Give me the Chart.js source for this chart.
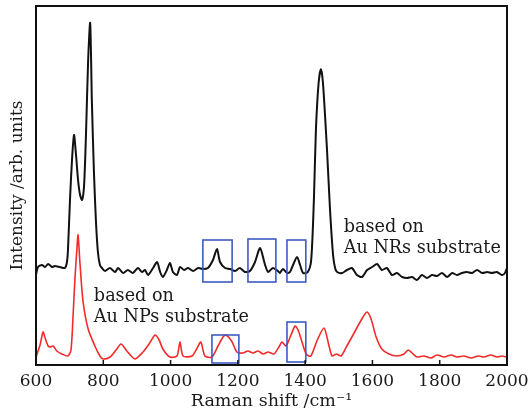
<!DOCTYPE html>
<html>
<head>
<meta charset="utf-8">
<script src="https://cdn.jsdelivr.net/npm/chart.js@4.4.0/dist/chart.umd.min.js"></script>
<style>
  html, body { margin: 0; padding: 0; background: #fff; }
  #wrap { width: 528px; height: 418px; }
</style>
</head>
<body>
<div id="wrap"><canvas id="raman"></canvas></div>
<script>
'use strict';

// Au NRs spectrum (drawn offset upward), shift in cm^-1, intensity in arb. units
const nrShift = [600, 606, 618, 627, 636, 648, 656, 671, 686, 692, 695, 701, 707, 713, 719, 725, 731, 737, 743, 749,
  755, 761, 766, 772, 778, 784, 790, 796, 805, 820, 835, 844, 859, 873, 888, 903, 915, 924, 933, 948,
  960, 969, 977, 989, 998, 1007, 1019, 1028, 1040, 1052, 1067, 1082, 1096, 1111, 1126, 1138, 1147, 1162, 1177, 1192,
  1206, 1221, 1236, 1251, 1266, 1281, 1290, 1304, 1319, 1325, 1334, 1346, 1355, 1364, 1376, 1385, 1394, 1408, 1418, 1426,
  1432, 1440, 1447, 1453, 1465, 1474, 1483, 1489, 1495, 1510, 1524, 1539, 1554, 1569, 1584, 1599, 1614, 1628, 1643, 1658,
  1673, 1688, 1703, 1718, 1732, 1747, 1762, 1777, 1792, 1807, 1822, 1837, 1851, 1866, 1881, 1896, 1911, 1926, 1941, 1955,
  1970, 1985, 1994, 2000];
const nrIntensity = [90, 98, 100, 98, 101, 98, 99, 98, 97, 103, 115, 165, 205, 230, 210, 185, 170, 165, 180, 235,
  305, 342, 265, 195, 145, 113, 100, 97, 94, 97, 93, 97, 92, 95, 92, 97, 93, 95, 90, 97,
  103, 93, 88, 95, 102, 93, 90, 98, 95, 97, 94, 97, 96, 97, 105, 116, 103, 97, 96, 94,
  97, 93, 94, 103, 117, 100, 93, 97, 94, 92, 96, 92, 93, 100, 108, 100, 92, 93, 105, 165,
  235, 282, 296, 282, 215, 155, 110, 97, 93, 92, 95, 97, 90, 88, 95, 98, 101, 95, 97, 90,
  92, 88, 87, 88, 85, 90, 87, 90, 89, 92, 88, 92, 90, 92, 93, 92, 95, 92, 93, 92,
  93, 90, 92, 97];

// Au NPs spectrum
const npShift = [600, 612, 621, 627, 636, 642, 651, 662, 677, 695, 704, 710, 716, 722, 725, 731, 740, 755, 775, 790,
  799, 820, 838, 853, 870, 894, 918, 936, 954, 966, 977, 998, 1019, 1028, 1037, 1064, 1079, 1090, 1102, 1123,
  1141, 1156, 1165, 1183, 1197, 1215, 1230, 1245, 1260, 1275, 1290, 1307, 1322, 1331, 1343, 1358, 1370, 1379, 1388, 1403,
  1417, 1435, 1456, 1471, 1480, 1493, 1507, 1524, 1539, 1560, 1572, 1584, 1596, 1611, 1628, 1649, 1673, 1694, 1706, 1718,
  1732, 1753, 1774, 1792, 1813, 1834, 1851, 1872, 1893, 1914, 1932, 1952, 1970, 1985, 2000];
const npIntensity = [8, 20, 33, 27, 19, 18, 19, 14, 11, 9, 15, 48, 88, 118, 130, 100, 63, 36, 19, 9,
  6, 8, 15, 21, 14, 6, 13, 21, 30, 25, 16, 8, 9, 23, 9, 9, 17, 23, 9, 8,
  19, 28, 30, 23, 13, 12, 14, 12, 14, 11, 13, 11, 18, 23, 19, 30, 39, 35, 26, 11,
  9, 24, 37, 19, 9, 11, 9, 19, 28, 41, 48, 53, 46, 28, 16, 11, 9, 11, 15, 12,
  8, 9, 7, 10, 8, 10, 8, 9, 7, 9, 8, 10, 8, 9, 8];

const shiftTicks = [600, 800, 1000, 1200, 1400, 1600, 1800, 2000];

// marked bands: [shift from, shift to, intensity low, intensity high]
const nrBands = [[1096, 1183, 83, 125], [1230, 1313, 83, 126], [1346, 1402, 83, 125]];
const npBands = [[1123, 1203, 2, 30], [1346, 1402, 3, 43]];

const nrCaption = ['based on', 'Au NRs substrate'];
const npCaption = ['based on', 'Au NPs substrate'];

const SERIF = '"DejaVu Serif", "Liberation Serif", serif';

function toPoints(xs, ys) {
  return xs.map(function (v, i) { return {x: v, y: ys[i]}; });
}

// caption anchors, in axis units
const captions = [
  {lines: nrCaption, x: 1515, y: [133, 112]},
  {lines: npCaption, x: 772, y: [64, 43]}
];

const decorPlugin = {
  id: 'decor',
  afterDatasetsDraw(chart) {
    const ctx = chart.ctx;
    const a = chart.chartArea;
    const xs = chart.scales.x, ys = chart.scales.y;
    ctx.save();

    // boxes around the marked bands
    ctx.strokeStyle = '#3c5cc2';
    ctx.lineWidth = 1.6;
    nrBands.concat(npBands).forEach(function (b) {
      const x0 = xs.getPixelForValue(b[0]), x1 = xs.getPixelForValue(b[1]);
      const y0 = ys.getPixelForValue(b[3]), y1 = ys.getPixelForValue(b[2]);
      ctx.strokeRect(x0, y0, x1 - x0, y1 - y0);
    });

    // plot frame + inward ticks on the shift axis
    ctx.strokeStyle = '#111';
    ctx.lineWidth = 2;
    ctx.strokeRect(a.left, a.top, a.right - a.left, a.bottom - a.top);
    ctx.lineWidth = 1.5;
    shiftTicks.forEach(function (v) {
      const px = xs.getPixelForValue(v);
      ctx.beginPath();
      ctx.moveTo(px, a.bottom);
      ctx.lineTo(px, a.bottom - 5);
      ctx.stroke();
    });

    // captions
    ctx.fillStyle = '#1a1a1a';
    ctx.font = '17.6px ' + SERIF;
    ctx.textAlign = 'left';
    ctx.textBaseline = 'alphabetic';
    captions.forEach(function (c) {
      c.lines.forEach(function (t, i) {
        ctx.fillText(t, xs.getPixelForValue(c.x), ys.getPixelForValue(c.y[i]));
      });
    });
    ctx.restore();
  }
};

new Chart(document.getElementById('raman'), {
  type: 'line',
  data: {
    datasets: [
      {
        label: 'Au NRs',
        data: toPoints(nrShift, nrIntensity),
        borderColor: '#111',
        borderWidth: 2,
        pointRadius: 0,
        tension: 0.25
      },
      {
        label: 'Au NPs',
        data: toPoints(npShift, npIntensity),
        borderColor: '#f22a2a',
        borderWidth: 1.6,
        pointRadius: 0,
        tension: 0.25
      }
    ]
  },
  options: {
    responsive: true,
    maintainAspectRatio: false,
    animation: false,
    layout: {padding: {top: 6, right: 21, left: 0, bottom: 0}},
    plugins: {legend: {display: false}, tooltip: {enabled: false}},
    scales: {
      x: {
        type: 'linear',
        min: 600,
        max: 2000,
        afterFit: function (scale) {
          scale.height = 53;
          // end labels may overhang the frame
          scale.paddingLeft = 0;
          scale.paddingRight = 0;
        },
        afterBuildTicks: function (scale) {
          scale.ticks = shiftTicks.map(function (v) { return {value: v}; });
        },
        grid: {display: false, drawTicks: false},
        border: {display: false},
        ticks: {
          padding: 6,
          color: '#1a1a1a',
          font: {family: SERIF, size: 17},
          maxRotation: 0,
          callback: function (v) { return String(v); }
        },
        title: {
          display: true,
          text: 'Raman shift /cm\u207B\u00B9',
          color: '#1a1a1a',
          font: {family: SERIF, size: 17.5},
          padding: {top: 0, bottom: 6}
        }
      },
      y: {
        min: 0,
        max: 359,
        afterFit: function (scale) { scale.width = 36; },
        grid: {display: false, drawTicks: false},
        border: {display: false},
        ticks: {display: false},
        title: {
          display: true,
          text: 'Intensity /arb. units',
          color: '#1a1a1a',
          font: {family: SERIF, size: 17},
          padding: {top: 7, bottom: 0}
        }
      }
    }
  },
  plugins: [decorPlugin]
});
</script>
</body>
</html>
